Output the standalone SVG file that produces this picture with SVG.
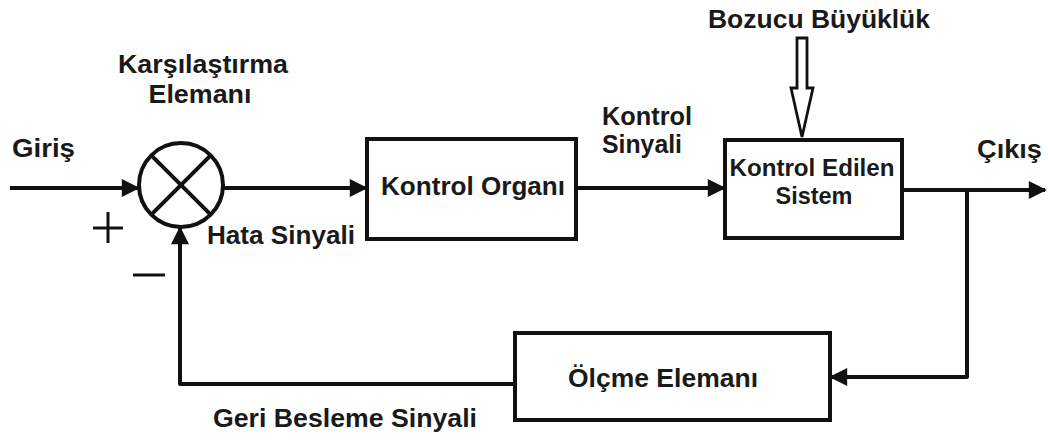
<svg xmlns="http://www.w3.org/2000/svg" width="1048" height="441" viewBox="0 0 1048 441">
  <style>
    .lbl { font-family: "Liberation Sans", Arial, sans-serif; font-weight: bold; font-size: 26px; fill: #1a1a1a; }
    .tight { font-size: 24px; }
    .box { fill: #ffffff; stroke: #111111; stroke-width: 4; }
    .wire { fill: none; stroke: #111111; stroke-width: 4; stroke-linejoin: round; }
    .sign { fill: none; stroke: #111111; stroke-width: 3; }
  </style>
  <defs>
    <marker id="arrow" viewBox="0 0 10 10" refX="9" refY="5" markerUnits="userSpaceOnUse" markerWidth="20" markerHeight="18" orient="auto">
      <path d="M0,0 L10,5 L0,10 Z" fill="#111111"/>
    </marker>
  </defs>
  <rect width="1048" height="441" fill="#ffffff"/>

  <!-- connectors -->
  <g id="connectors">
    <line class="wire" x1="10" y1="188" x2="138" y2="188" marker-end="url(#arrow)"/>
    <line class="wire" x1="223" y1="188" x2="366" y2="188" marker-end="url(#arrow)"/>
    <line class="wire" x1="576" y1="188" x2="724" y2="188" marker-end="url(#arrow)"/>
    <line class="wire" x1="902" y1="190" x2="1045" y2="190" marker-end="url(#arrow)"/>
    <polyline class="wire" points="967,190 967,377 831,377" marker-end="url(#arrow)"/>
    <polyline class="wire" points="515,384 180,384 180,228" marker-end="url(#arrow)"/>
    <!-- disturbance input: hollow arrow -->
    <path d="M797,38 L807,38 L807,88 L813,88 L802,137 L791,88 L797,88 Z" fill="#ffffff" stroke="#111111" stroke-width="2.8" stroke-linejoin="miter"/>
  </g>

  <!-- summing junction -->
  <g id="comparator">
    <circle cx="181" cy="185" r="42" fill="#ffffff" stroke="#111111" stroke-width="4"/>
    <line class="wire" x1="151.3" y1="155.3" x2="210.7" y2="214.7" stroke-width="3.5"/>
    <line class="wire" x1="210.7" y1="155.3" x2="151.3" y2="214.7" stroke-width="3.5"/>
    <text class="lbl" x="203" y="73" text-anchor="middle" textLength="170" lengthAdjust="spacingAndGlyphs">Karşılaştırma</text>
    <text class="lbl" x="200" y="103" text-anchor="middle" textLength="103" lengthAdjust="spacingAndGlyphs">Elemanı</text>
    <line class="sign" x1="93" y1="228" x2="123" y2="228"/>
    <line class="sign" x1="108" y1="212" x2="108" y2="243"/>
    <line class="sign" x1="133" y1="275" x2="165" y2="275"/>
  </g>

  <g id="controller">
    <rect class="box" x="367" y="139" width="209" height="100"/>
    <text class="lbl" x="473" y="195" text-anchor="middle" textLength="184" lengthAdjust="spacingAndGlyphs">Kontrol Organı</text>
  </g>

  <g id="plant">
    <rect class="box" x="725" y="140" width="177" height="98"/>
    <text class="lbl tight" x="812" y="176" text-anchor="middle" textLength="165" lengthAdjust="spacingAndGlyphs">Kontrol Edilen</text>
    <text class="lbl tight" x="814" y="204" text-anchor="middle" textLength="77" lengthAdjust="spacingAndGlyphs">Sistem</text>
  </g>

  <g id="sensor">
    <rect class="box" x="515" y="333" width="315" height="87"/>
    <text class="lbl" x="663" y="387" text-anchor="middle" textLength="190" lengthAdjust="spacingAndGlyphs">Ölçme Elemanı</text>
  </g>

  <g id="labels">
    <text class="lbl" x="12" y="157" textLength="63" lengthAdjust="spacingAndGlyphs">Giriş</text>
    <text class="lbl" x="207" y="244" textLength="148" lengthAdjust="spacingAndGlyphs">Hata Sinyali</text>
    <text class="lbl" x="602" y="125" textLength="90" lengthAdjust="spacingAndGlyphs">Kontrol</text>
    <text class="lbl" x="602" y="153" textLength="80" lengthAdjust="spacingAndGlyphs">Sinyali</text>
    <text class="lbl" x="708" y="28" textLength="222" lengthAdjust="spacingAndGlyphs">Bozucu Büyüklük</text>
    <text class="lbl" x="977" y="158" textLength="65" lengthAdjust="spacingAndGlyphs">Çıkış</text>
    <text class="lbl" x="213" y="427" textLength="264" lengthAdjust="spacingAndGlyphs">Geri Besleme Sinyali</text>
  </g>
</svg>
